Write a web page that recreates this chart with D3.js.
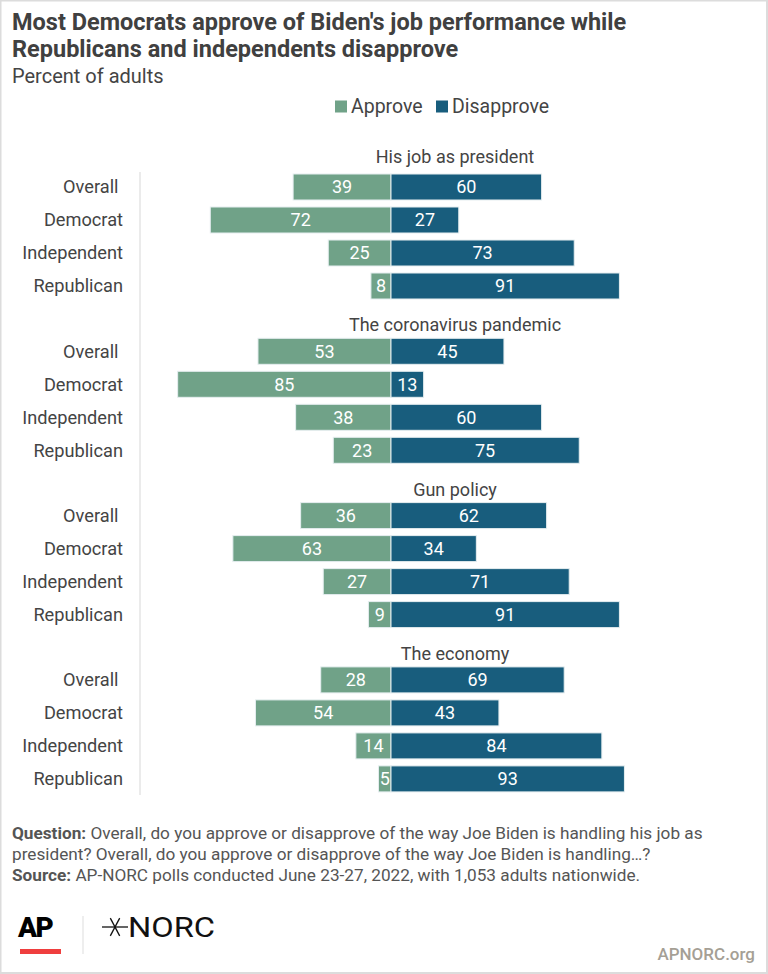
<!DOCTYPE html>
<html lang="en">
  <head>
    <meta charset="utf-8">
    <title>Biden approval by party</title>
    <script src="https://d3js.org/d3.v7.min.js"></script>
    <style type="text/css">
      body { margin: 0; background: #fff; }
      svg { font-family: Roboto, sans-serif; display: block; }
      .cat { fill: #444; font-size: 18.2px; white-space: pre; }
      .head { fill: #444; font-size: 18px; }
      .val { fill: #fff; font-size: 18px; }
      .foot { fill: #555; font-size: 17.2px; }
    </style>
  </head>
  <body>
    <script>
      var w = 768;

      var h = 974;

      var topics = ["His job as president", "The coronavirus pandemic",
          "Gun policy", "The economy"];

      var groups = ["Overall ", "Democrat", "Independent", "Republican"];

      // one row of four per topic, same order as groups
      var approve = [
        [39, 72, 25, 8],
        [53, 85, 38, 23],
        [36, 63, 27, 9],
        [28, 54, 14, 5]
      ];

      var disapprove = [
        [60, 27, 73, 91],
        [45, 13, 60, 75],
        [62, 34, 71, 91],
        [69, 43, 84, 93]
      ];

      var seriesNames = ["Approve", "Disapprove"];
      var colors = ["#70a288", "#185d7d"];

      var svg = d3.select("body").append("svg")
          .attr("width", w).attr("height", h);

      svg.append("rect")
         .attr("x", 0.5).attr("y", 0.5)
         .attr("width", w - 1.5).attr("height", h - 1.5)
         .attr("fill", "none").attr("stroke", "#dcdcdc").attr("stroke-width", 2);

      // title block
      svg.append("text").attr("x", 12).attr("y", 30)
         .attr("fill", "#404040").attr("font-size", 23.5).attr("font-weight", 700)
         .text("Most Democrats approve of Biden's job performance while");
      svg.append("text").attr("x", 12).attr("y", 57)
         .attr("fill", "#404040").attr("font-size", 23.5).attr("font-weight", 700)
         .text("Republicans and independents disapprove");
      svg.append("text").attr("x", 12).attr("y", 83)
         .attr("fill", "#444").attr("font-size", 20)
         .text("Percent of adults");

      // legend
      var legX = [335, 436];
      var leg = svg.selectAll(".leg").data(seriesNames).enter().append("g")
          .attr("transform", (d, i) => "translate(" + legX[i] + ",100.5)");
      leg.append("rect").attr("width", 12).attr("height", 12)
         .attr("fill", (d, i) => colors[i]);
      leg.append("text").attr("x", 16).attr("y", 12.3)
         .attr("fill", "#444").attr("font-size", 19.5)
         .text(d => d);

      var xScale = d3.scaleLinear()
        .domain([-100, 100])
        .range([140, 642]);

      var topicScale = d3.scaleBand()
        .domain(topics)
        .range([141, 141 + 164.3 * topics.length]);

      var rowScale = d3.scaleBand()
        .domain(groups)
        .range([29.5, 29.5 + 132])
        .paddingInner(0.212)
        .paddingOuter(0.106);

      svg.append("line")
         .attr("x1", 140).attr("x2", 140)
         .attr("y1", 172).attr("y2", 795)
         .attr("stroke", "#e4e4e4").attr("stroke-width", 1.5);

      var block = svg.selectAll(".topic").data(topics).enter().append("g")
          .attr("class", "topic")
          .attr("transform", d => "translate(0," + topicScale(d) + ")");

      block.append("text").attr("class", "head")
         .attr("x", 455).attr("y", (d, i) => i === 0 ? 22 : 26)
         .attr("text-anchor", "middle")
         .text(d => d);

      block.each(function(t, ti) {
        var g = d3.select(this);
        var rows = groups.map((c, i) => ({ cat: c, a: approve[ti][i], d: disapprove[ti][i] }));

        g.selectAll(".cat").data(rows).enter().append("text")
         .attr("class", "cat")
         .attr("x", 123)
         .attr("y", d => rowScale(d.cat) + rowScale.bandwidth() / 2)
         .attr("dy", "0.35em")
         .attr("text-anchor", "end")
         .text(d => d.cat);

        g.selectAll(".ab").data(rows).enter().append("rect")
         .attr("x", d => xScale(-d.a))
         .attr("y", d => rowScale(d.cat))
         .attr("width", d => xScale(0) - xScale(-d.a))
         .attr("height", rowScale.bandwidth())
         .attr("fill", colors[0])
         .attr("stroke", "#e6eef0").attr("stroke-width", 1);

        g.selectAll(".db").data(rows).enter().append("rect")
         .attr("x", xScale(0))
         .attr("y", d => rowScale(d.cat))
         .attr("width", d => xScale(d.d) - xScale(0))
         .attr("height", rowScale.bandwidth())
         .attr("fill", colors[1])
         .attr("stroke", "#e6eef0").attr("stroke-width", 1);

        g.selectAll(".av").data(rows).enter().append("text")
         .attr("class", "val")
         .attr("x", d => (xScale(-d.a) + xScale(0)) / 2)
         .attr("y", d => rowScale(d.cat) + rowScale.bandwidth() / 2)
         .attr("dy", "0.36em")
         .attr("text-anchor", "middle")
         .text(d => d.a);

        g.selectAll(".dv").data(rows).enter().append("text")
         .attr("class", "val")
         .attr("x", d => (xScale(d.d) + xScale(0)) / 2)
         .attr("y", d => rowScale(d.cat) + rowScale.bandwidth() / 2)
         .attr("dy", "0.36em")
         .attr("text-anchor", "middle")
         .text(d => d.d);
      });

      // notes
      var l1 = svg.append("text").attr("class", "foot").attr("x", 12).attr("y", 839);
      l1.append("tspan").attr("font-weight", 700).text("Question:");
      l1.append("tspan").text(" Overall, do you approve or disapprove of the way Joe Biden is handling his job as");
      svg.append("text").attr("class", "foot").attr("x", 12).attr("y", 860)
         .text("president? Overall, do you approve or disapprove of the way Joe Biden is handling\u2026?");
      var l3 = svg.append("text").attr("class", "foot").attr("x", 12).attr("y", 881);
      l3.append("tspan").attr("font-weight", 700).text("Source:");
      l3.append("tspan").text(" AP-NORC polls conducted June 23-27, 2022, with 1,053 adults nationwide.");

      // logos
      svg.append("text").attr("x", 18).attr("y", 937)
         .attr("font-size", 28).attr("font-weight", 900).attr("fill", "#000")
         .attr("letter-spacing", -1.5)
         .text("AP");
      svg.append("rect").attr("x", 20).attr("y", 949)
         .attr("width", 41).attr("height", 5).attr("fill", "#ef3e3e");
      svg.append("line").attr("x1", 83).attr("x2", 83)
         .attr("y1", 916).attr("y2", 954)
         .attr("stroke", "#ddd").attr("stroke-width", 1);

      var star = svg.append("g").attr("transform", "translate(115,927)")
          .attr("stroke", "#111").attr("stroke-width", 1.3);
      star.append("line").attr("x1", -13).attr("x2", 13).attr("y1", 0).attr("y2", 0);
      [-62, 62].forEach(function(a) {
        var r = a * Math.PI / 180;
        star.append("line")
            .attr("x1", -10 * Math.cos(r)).attr("y1", -10 * Math.sin(r))
            .attr("x2", 10 * Math.cos(r)).attr("y2", 10 * Math.sin(r));
      });
      svg.append("text").attr("x", 128).attr("y", 937)
         .attr("font-size", 28).attr("fill", "#111")
         .attr("textLength", 87).attr("lengthAdjust", "spacingAndGlyphs")
         .text("NORC");

      svg.append("text").attr("x", 755).attr("y", 960)
         .attr("text-anchor", "end")
         .attr("font-size", 17).attr("font-weight", 500).attr("fill", "#a59f95")
         .text("APNORC.org");
    </script>
  </body>
</html>
